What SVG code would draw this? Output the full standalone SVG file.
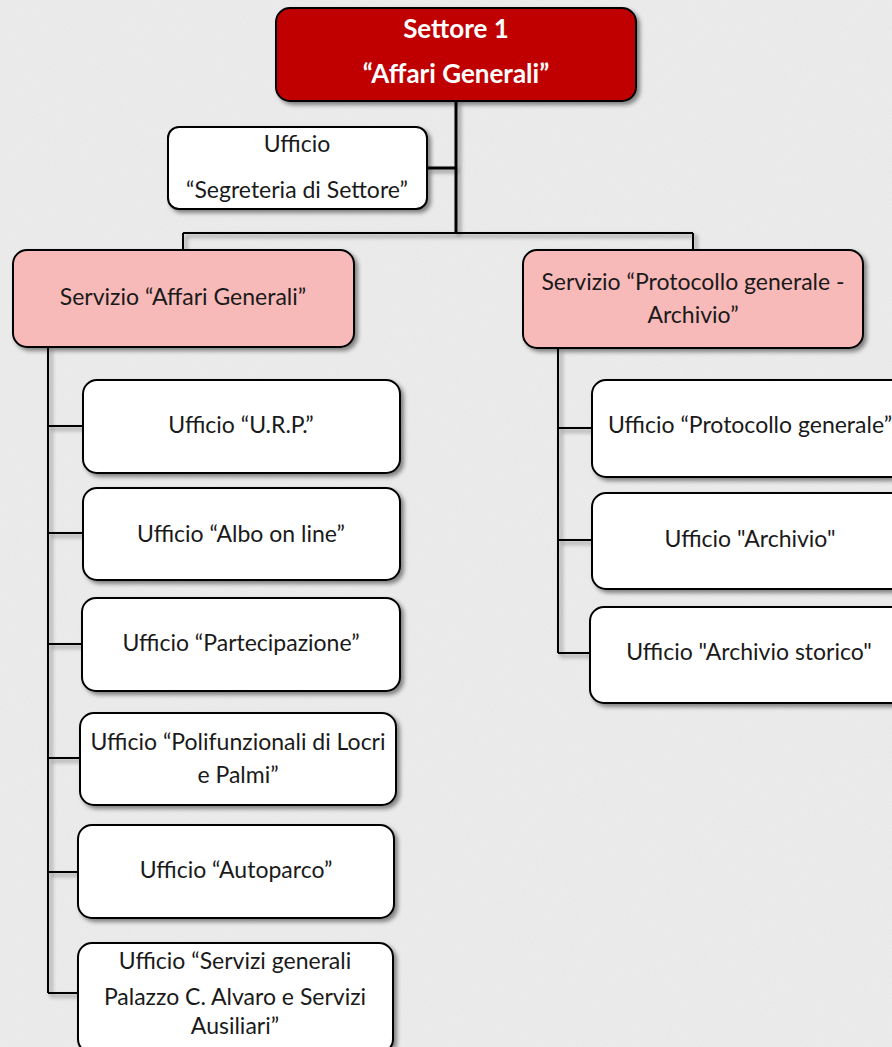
<svg xmlns="http://www.w3.org/2000/svg" width="892" height="1047" viewBox="0 0 892 1047">
<defs>
<filter id="sh" x="-10%" y="-10%" width="130%" height="130%">
<feDropShadow dx="3" dy="3" stdDeviation="2" flood-color="#000" flood-opacity="0.45"/>
</filter>
<filter id="paper" x="0" y="0" width="100%" height="100%">
<feTurbulence type="fractalNoise" baseFrequency="0.9" numOctaves="2" seed="3" result="n"/>
<feColorMatrix in="n" type="matrix" values="0 0 0 0 0.5  0 0 0 0 0.5  0 0 0 0 0.5  0 0 0 0.16 0"/>
</filter>
</defs>
<style>
.box{stroke:#000;stroke-width:2;filter:url(#sh)}
.w{fill:#fff}
.p{fill:#F8B9B9}
.r{fill:#C00000}
.t{font-family:Lato,"Liberation Sans",sans-serif;font-size:23px;fill:#1a1a1a;text-anchor:middle}
.tb{font-family:Lato,"Liberation Sans",sans-serif;font-size:26px;font-weight:bold;fill:#fff;text-anchor:middle}
.c{fill:none;stroke:#000;stroke-width:2}
</style>
<rect width="892" height="1047" fill="#EEEEEE"/>
<rect width="892" height="1047" filter="url(#paper)"/>
<g id="connectors" filter="url(#sh)">
<path class="c" d="M456 101V233M427 168H456" style="stroke-width:3"/>
<path class="c" d="M183 233H693M183 233V250M693 233V250"/>
<path class="c" d="M48 347V993M48 426H83M48 533H83M48 644H82M48 758H80M48 872H78M48 993H78"/>
<path class="c" d="M558 349V653M558 428H592M558 540H592M558 653H590"/>
</g>
<g id="settore1">
<rect class="box r" x="276" y="8" width="360" height="93" rx="14"/>
<text class="tb" x="456" y="38">Settore 1</text>
<text class="tb" x="456" y="83">“Affari Generali”</text>
</g>
<g id="segreteria">
<rect class="box w" x="168" y="127" width="259" height="82" rx="11"/>
<text class="t" x="297" y="152">Ufficio</text>
<text class="t" x="297" y="198">“Segreteria di Settore”</text>
</g>
<g id="servizio-affari">
<rect class="box p" x="13" y="250" width="341" height="97" rx="14"/>
<text class="t" x="183" y="305">Servizio “Affari Generali”</text>
</g>
<g id="servizio-protocollo">
<rect class="box p" x="523" y="250" width="340" height="98" rx="14"/>
<text class="t" x="693" y="290">Servizio “Protocollo generale -</text>
<text class="t" x="693" y="323">Archivio”</text>
</g>
<g id="urp">
<rect class="box w" x="83" y="380" width="317" height="93" rx="14"/>
<text class="t" x="241" y="433">Ufficio “U.R.P.”</text>
</g>
<g id="albo">
<rect class="box w" x="83" y="488" width="317" height="92" rx="14"/>
<text class="t" x="241" y="542">Ufficio “Albo on line”</text>
</g>
<g id="partecipazione">
<rect class="box w" x="82" y="598" width="318" height="93" rx="14"/>
<text class="t" x="241" y="651">Ufficio “Partecipazione”</text>
</g>
<g id="polifunzionali">
<rect class="box w" x="80" y="713" width="316" height="92" rx="14"/>
<text class="t" x="238" y="750">Ufficio “Polifunzionali di Locri</text>
<text class="t" x="238" y="783">e Palmi”</text>
</g>
<g id="autoparco">
<rect class="box w" x="78" y="825" width="316" height="93" rx="14"/>
<text class="t" x="236" y="878">Ufficio “Autoparco”</text>
</g>
<g id="servizi-generali">
<rect class="box w" x="78" y="943" width="315" height="110" rx="14"/>
<text class="t" x="235" y="969">Ufficio “Servizi generali</text>
<text class="t" x="235" y="1005">Palazzo C. Alvaro e Servizi</text>
<text class="t" x="235" y="1034">Ausiliari”</text>
</g>
<g id="protocollo-generale">
<rect class="box w" x="592" y="380" width="316" height="97" rx="14"/>
<text class="t" x="750" y="433">Ufficio “Protocollo generale”</text>
</g>
<g id="archivio">
<rect class="box w" x="592" y="493" width="316" height="96" rx="14"/>
<text class="t" x="750" y="547">Ufficio "Archivio"</text>
</g>
<g id="archivio-storico">
<rect class="box w" x="590" y="607" width="318" height="96" rx="14"/>
<text class="t" x="749" y="660">Ufficio "Archivio storico"</text>
</g>
</svg>
